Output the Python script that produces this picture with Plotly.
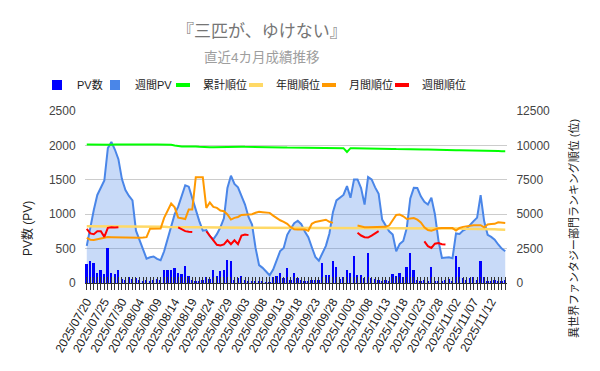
import plotly.graph_objects as go
import pandas as pd

# ---------------- data ----------------
dates = list(pd.date_range("2025-07-20", "2025-11-16").strftime("%Y/%m/%d"))

tick_labels = [
    "2025/07/20", "2025/07/25", "2025/07/30", "2025/08/04", "2025/08/09", "2025/08/14",
    "2025/08/19", "2025/08/24", "2025/08/29", "2025/09/03", "2025/09/08", "2025/09/13",
    "2025/09/18", "2025/09/23", "2025/09/28", "2025/10/03", "2025/10/08", "2025/10/13",
    "2025/10/18", "2025/10/23", "2025/10/28", "2025/11/02", "2025/11/07", "2025/11/12",
]

pv_daily = [
    277, 325, 291, 146, 194, 131, 510, 146, 131, 194,
    60, 50, 90, 65, 70, 40, 30, 45, 35, 45,
    55, 50, 194, 184, 194, 218, 146, 131, 252, 97,
    48, 34, 30, 40, 82, 58, 194, 97, 170, 184,
    340, 325, 48, 73, 97, 40, 25, 20, 15, 15,
    15, 10, 12, 82, 97, 146, 73, 218, 40, 146,
    73, 48, 30, 30, 45, 45, 40, 291, 121, 121,
    315, 233, 63, 87, 184, 146, 398, 121, 121, 70,
    437, 73, 63, 40, 30, 40, 30, 131, 107, 146,
    82, 233, 437, 194, 45, 30, 40, 30, 233, 30,
    25, 20, 39, 63, 25, 388, 228, 73, 48, 73,
    82, 48, 315, 82, 30, 30, 40, 25, 30, 39,
]

pv_weekly = [
    540, 830, 1060, 1280, 1390, 1490, 1960, 2050, 1940, 1800,
    1510, 1350, 1265, 1200, 760, 630, 500, 355, 375, 385,
    350, 330, 461, 640, 810, 1000, 1110, 1250, 1420, 1400,
    1230, 1070, 900, 760, 770, 680, 635, 710, 810, 940,
    1380, 1560, 1440, 1390, 1250, 1140, 960, 850, 510, 260,
    220, 170, 112, 194, 340, 465, 510, 700, 790, 870,
    905, 855, 750, 665, 520, 380, 325, 440, 540, 720,
    1030, 1200, 1235, 1280, 1408, 1238, 1505, 1505, 1380, 1141,
    1540, 1505, 1390, 1296, 922, 840, 752, 704, 461, 568,
    610, 800, 1230, 1383, 1380, 1260, 1180, 1141, 1238, 1000,
    620, 364, 364, 374, 360, 720, 714, 762, 791, 850,
    900, 950, 1277, 900, 700, 670, 630, 560, 500, 461,
]

rank_total = [
    10070, 10060, 10070, 10060, 10050, 10040, 10040, 10050, 10060, 10070,
    10070, 10070, 10060, 10060, 10060, 10070, 10070, 10070, 10060, 10060,
    10060, 10070, 10070, 10070, 10050, 9990, 9930, 9920, 9920, 9930,
    9930, 9920, 9900, 9870, 9860, 9860, 9870, 9880, 9880, 9880,
    9890, 9900, 9900, 9900, 9910, 9900, 9900, 9900, 9890, 9880,
    9870, 9870, 9860, 9860, 9850, 9850, 9850, 9840, 9840, 9840,
    9830, 9830, 9830, 9820, 9820, 9820, 9830, 9830, 9820, 9820,
    9810, 9810, 9800, 9800, 9520, 9800, 9790, 9790, 9780, 9780,
    9780, 9770, 9770, 9770, 9760, 9760, 9750, 9740, 9730, 9720,
    9720, 9710, 9710, 9700, 9700, 9700, 9700, 9700, 9700, 9690,
    9690, 9680, 9680, 9670, 9660, 9650, 9640, 9640, 9630, 9630,
    9620, 9620, 9620, 9610, 9610, 9600, 9600, 9590, 9580, 9580,
]

rank_year = [
    4130, 4130, 4130, 4120, 4120, 4120, 4120, 4110, 4110, 4110,
    4110, 4100, 4100, 4100, 4100, 4100, 4090, 4090, 4090, 4090,
    4080, 4080, 4080, 4070, 4070, 4070, 4070, 4060, 4060, 4060,
    4060, 4050, 4050, 4050, 4050, 4040, 4040, 4040, 4040, 4030,
    4030, 4030, 4030, 4020, 4020, 4020, 4020, 4010, 4010, 4010,
    4010, 4000, 4000, 4000, 4000, 4000, 3990, 3990, 3990, 3990,
    3990, 3990, 3990, 3990, 3990, 3990, 3990, 3990, 3990, 3990,
    3990, 3990, 3990, 3990, 3990, 3990, 3990, 3990, 3990, 3990,
    3990, 3990, 3990, 3990, 3990, 3990, 3980, 3980, 3980, 3980,
    3980, 3980, 3980, 3980, 3980, 3970, 3970, 3970, 3970, 3970,
    3970, 3970, 3960, 3960, 3960, 3960, 3960, 3950, 3950, 3950,
    3940, 3940, 3930, 3930, 3920, 3910, 3900, 3890, 3880, 3870,
]

rank_month = [
    3280, 3150, 3130, 3180, 3200, 3280, 3340, 3330, 3320, 3320,
    3320, 3310, 3310, 3300, 3290, 3280, 3300, 3330, 3950, 3960,
    3960, 3960, 4730, 5300, 5780, 5500, 4750, 4700, 4650, 5340,
    5340, 7690, 7690, 7680, 5460, 5850, 5534, 5461, 5267, 5218,
    4976, 4612, 4733, 4800, 4950, 4976, 4976, 5000, 5100, 5170,
    5150, 5100, 5097, 4900, 4700, 4560, 4450, 4300, 4053, 3900,
    3880, 3880, 3880, 3800, 4300, 4440, 4490, 4500, 4600, 4450,
    4370, None, None, None, None, None, None, 4175, 4100, 4053,
    4053, 4050, 4050, 4050, 4060, 4080, 4175, 4600, 4950, 4976,
    4850, 4650, 4700, 4720, 4600, 4400, 4053, 3850, 3800, 3900,
    3980, 4000, 4000, 4000, 3990, 3810, 4000, 4080, 4126, 4150,
    4190, 4190, 4200, 4050, 4250, 4280, 4300, 4417, 4400, 4369,
]

rank_week = [
    3930, 3600, 3550, 3760, 3760, 3350, 4005, 4053, 4030, 4053,
    None, None, None, None, None, None, None, None, None, None,
    None, None, None, None, None, None, 4050, 3900, 3770, 3720,
    3700, None, None, None, 3760, 3400, 3100, 2780, 2720, 2800,
    3100, 2820, 3100, 2820, 3450, 3520, 3480, None, None, None,
    None, None, None, None, None, None, None, None, None, None,
    None, None, None, None, None, None, None, None, None, None,
    None, None, None, None, None, None, None, 3650, 3450, 3330,
    3300, 3450, 3640, 3770, None, None, None, None, None, None,
    None, None, None, None, None, None, 3030, 2680, 2550, 2860,
    2900, 2820, 2800, None, None, None, None, None, None, None,
    None, None, None, None, None, None, None, None, None, None,
]

# ---------------- figure ----------------
FONT = "Liberation Sans, Arial, Noto Sans CJK JP, sans-serif"
W, H = 600, 371
L, R, T, B = 85, 93, 111, 88
pw, ph = W - L - R, H - T - B


def px_x(px):
    return (px - L) / pw


def px_y(py):
    return (H - B - py) / ph


ticktext = [d if d in tick_labels else "" for d in dates]

fig = go.Figure()

fig.add_trace(go.Scatter(
    x=dates, y=pv_weekly, name="週間PV", mode="lines",
    line=dict(color="#4a86e8", width=2), fill="tozeroy",
    fillcolor="rgba(74,134,232,0.3)", showlegend=False, hoverinfo="skip"))

fig.add_trace(go.Bar(
    x=dates, y=pv_daily, name="PV数", yaxis="y2", width=0.5,
    marker=dict(color="#0000ff", line=dict(width=0)), showlegend=False))

line_series = [
    ("累計順位", rank_total, "#00ff00", 2),
    ("年間順位", rank_year, "#ffd966", 2.5),
    ("月間順位", rank_month, "#ff9900", 2),
    ("週間順位", rank_week, "#ff0000", 2),
]
for name, vals, color, w in line_series:
    fig.add_trace(go.Scatter(
        x=dates, y=vals, name=name, mode="lines", yaxis="y3",
        line=dict(color=color, width=w), showlegend=False, connectgaps=False))

# dummy trace for the inside tick marks axis
fig.add_trace(go.Scatter(x=dates, y=[None] * len(dates), xaxis="x2",
                         showlegend=False, hoverinfo="skip", mode="lines"))

# legend-only entries with compact icons (no visible marks in the plot)
legend_entries = [
    ("PV数", "#0000ff", "square"),
    ("週間PV", "#4a86e8", "square"),
    ("累計順位", "#00ff00", "bar"),
    ("年間順位", "#ffd966", "bar"),
    ("月間順位", "#ff9900", "bar"),
    ("週間順位", "#ff0000", "bar"),
]
legend_text_x = [77, 135, 203, 276, 349, 422]
legend_layout = {}
for k, ((name, color, kind), tx) in enumerate(zip(legend_entries, legend_text_x)):
    lname = "legend" if k == 0 else f"legend{k + 1}"
    if kind == "square":
        marker = dict(symbol="square", size=10, color=color, line=dict(width=0))
    else:
        marker = dict(symbol="line-ew", size=10, color=color,
                      line=dict(width=4, color=color))
    fig.add_trace(go.Scatter(x=[None], y=[None], name=name, mode="markers",
                             marker=marker, legend=lname, hoverinfo="skip"))
    legend_layout[lname] = dict(
        orientation="h", x=px_x(tx - 40), xanchor="left", y=px_y(85),
        yanchor="middle", font=dict(size=11, color="#222222"),
        itemwidth=30, bgcolor="rgba(0,0,0,0)", borderwidth=0)

xcommon = dict(type="category", range=[-0.5, len(dates) - 0.5],
               tickmode="array", tickvals=dates, showgrid=False,
               tickcolor="#333333", tickwidth=1, ticklen=6)

fig.update_layout(
    width=W, height=H,
    margin=dict(l=L, r=R, t=T, b=B, pad=0),
    paper_bgcolor="white", plot_bgcolor="white",
    font=dict(family=FONT, size=12, color="#222222"),
    showlegend=True,
    bargap=0,
    **legend_layout,
    xaxis=dict(**xcommon, ticktext=ticktext, ticks="outside", tickangle=-60,
               showline=True, linecolor="#333333", linewidth=1,
               tickfont=dict(size=12, color="#222222")),
    xaxis2=dict(**xcommon, overlaying="x", anchor="y", side="bottom",
                ticks="inside", showticklabels=False, showline=False),
    yaxis=dict(range=[0, 2500], tickvals=[0, 500, 1000, 1500, 2000, 2500],
               gridcolor="#cccccc", gridwidth=1, zeroline=False,
               ticks="outside", ticklen=6, tickcolor="rgba(0,0,0,0)",
               tickformat="d", tickfont=dict(size=12, color="#444444")),
    yaxis2=dict(range=[0, 2500], overlaying="y", visible=False),
    yaxis3=dict(range=[0, 12500], overlaying="y", side="right", anchor="x",
                tickvals=[0, 2500, 5000, 7500, 10000, 12500], showgrid=False,
                zeroline=False, ticks="outside", ticklen=6,
                tickcolor="rgba(0,0,0,0)", tickformat="d",
                tickfont=dict(size=12, color="#444444")),
)

fig.add_annotation(text="『三匹が、ゆけない』", xref="paper", yref="paper",
                   x=px_x(261.5), y=px_y(31), showarrow=False,
                   font=dict(size=17, color="#757575"), xanchor="center", yanchor="middle")
fig.add_annotation(text="直近4カ月成績推移", xref="paper", yref="paper",
                   x=px_x(261.5), y=px_y(58), showarrow=False,
                   font=dict(size=13.5, color="#9e9e9e"), xanchor="center", yanchor="middle")
fig.add_annotation(text="PV数 (PV)", xref="paper", yref="paper",
                   x=px_x(27), y=px_y(229), showarrow=False, textangle=-90,
                   font=dict(size=12, color="#222222"), xanchor="center", yanchor="middle")
fig.add_annotation(text="異世界ファンタジー部門ランキング順位 (位)", xref="paper", yref="paper",
                   x=px_x(573), y=px_y(229), showarrow=False, textangle=-90,
                   font=dict(size=11, color="#222222"), xanchor="center", yanchor="middle")

fig.write_html("out.html", config={"displayModeBar": False},
               post_script="document.body.style.margin='0';document.body.style.overflow='hidden';")
